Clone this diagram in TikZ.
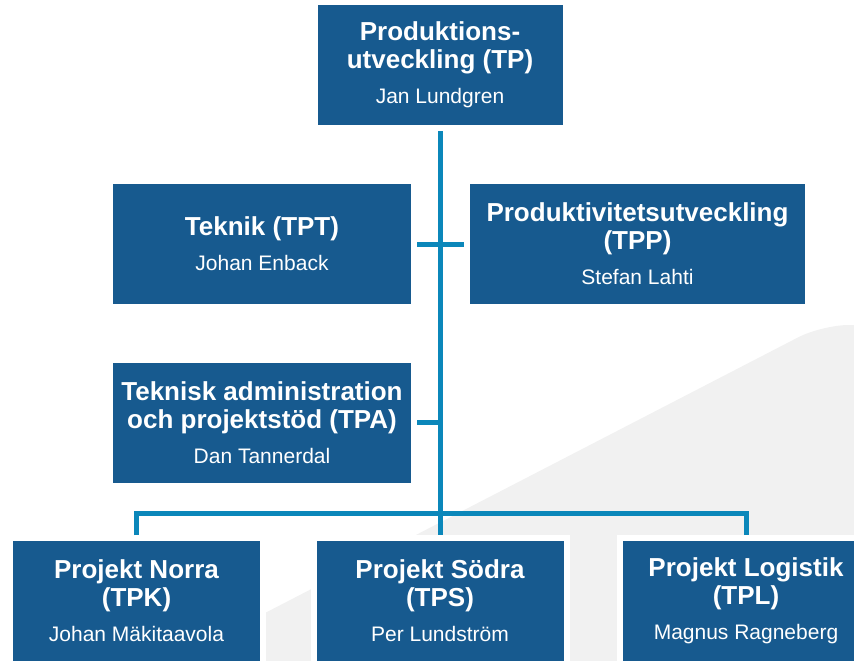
\documentclass[tikz,border=0pt]{standalone}
\usepackage{fontspec}
\setmainfont{Liberation Sans}
\usepackage{xcolor}
\definecolor{boxblue}{HTML}{175A8F}
\definecolor{lineblue}{HTML}{0B87BA}
\definecolor{bggray}{HTML}{F1F1F1}
\newcommand{\who}[1]{{\fontsize{15.75}{21}\selectfont\mdseries #1}}

\begin{document}
\begin{tikzpicture}[x=0.75pt, y=-0.75pt,
    box/.style={fill=boxblue, draw=white, line width=4.5pt, text=white,
      align=center, inner sep=0pt, minimum height=94.5pt,
      font=\fontsize{19.5}{21}\selectfont\bfseries},
    conn/.style={draw=lineblue, line width=3.75pt}]
    \useasboundingbox (0,0) rectangle (854,661);
    \clip (0,0) rectangle (854,661);

    % grey backdrop
    \fill[bggray] (265,680) -- (265,613) [rounded corners=20pt] -- (822,325)
        -- (890,325) -- (890,680) -- cycle;

    \node[box, minimum width=188.25pt] (tp) at (440,65)
        {Produktions-\\utveckling (TP)\\[5pt]\who{Jan Lundgren}};
    \node[box, minimum width=228pt] (tpt) at (262,244)
        {Teknik (TPT)\\[5pt]\who{Johan Enback}};
    \node[box, minimum width=255.75pt] (tpp) at (637.5,244)
        {Produktivitetsutveckling\\(TPP)\\[5pt]\who{Stefan Lahti}};
    \node[box, minimum width=228pt] (tpa) at (262,422.5)
        {Teknisk administration\\och projektstöd (TPA)\\[5pt]\who{Dan Tannerdal}};
    \node[box, minimum width=189.75pt] (tpk) at (136.5,601)
        {Projekt Norra\\(TPK)\\[5pt]\who{Johan Mäkitaavola}};
    \node[box, minimum width=189.75pt] (tps) at (440,601)
        {Projekt Södra\\(TPS)\\[5pt]\who{Per Lundström}};
    \node[box, minimum width=189.75pt] (tpl) at (746,601)
        {Projekt Logistik\\(TPL)\\[5pt]\who{Magnus Ragneberg}};

    \coordinate (bus) at (440,513);

    \draw[conn] (tp) -- (tps);
    \draw[conn] (tpt) -- (tpp);
    \draw[conn] (tpa.east) -- (tpa.east -| tp.south);
    \draw[conn] (tpk) |- (bus) -| (tpl);
\end{tikzpicture}
\end{document}
